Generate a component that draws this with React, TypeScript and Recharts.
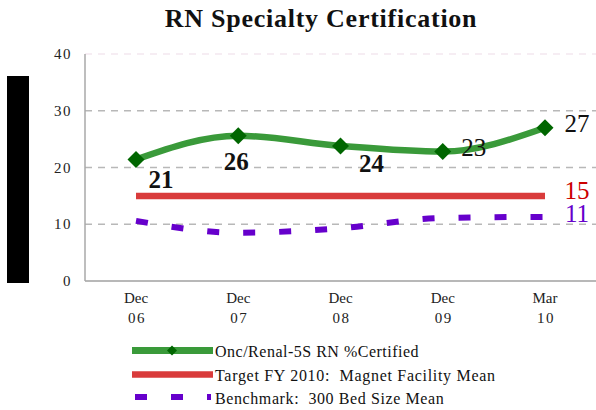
import React from 'react';
import { LineChart, Line, XAxis, YAxis, ReferenceLine, LabelList } from 'recharts';

const categories = ['Dec 06', 'Dec 07', 'Dec 08', 'Dec 09', 'Mar 10'];
const certified = [21.4, 25.6, 23.8, 22.8, 27.0];
const certifiedLabels = ['21', '26', '24', '23', '27'];
const target = [15, 15, 15, 15, 15];
const benchmark = [10.6, 8.5, 9.3, 11.1, 11.3];
const yTicks = [0, 10, 20, 30, 40];
const seriesNames = [
  'Onc/Renal-5S RN %Certified',
  'Target FY 2010:  Magnet Facility Mean',
  'Benchmark:  300 Bed Size Mean',
];

const data = categories.map((c, i) => ({
  name: c,
  certified: certified[i],
  target: target[i],
  benchmark: benchmark[i],
}));

const FONT = '"Liberation Serif", "Times New Roman", serif';
const GREEN = '#3a9a3a';
const DKGREEN = '#006600';
const RED = '#d93b3b';
const PURPLE = '#6600cc';

const labelOffsets = [
  [25, 20],
  [-2, 26],
  [31, 18],
  [31, -4],
  [32, -4],
];
const labelBold = [true, true, true, false, false];

const XTick = (props: any) => {
  const { x, y, payload } = props;
  const [a, b] = String(payload.value).split(' ');
  return (
    <g>
      <text x={x} y={y + 22} textAnchor="middle" fontFamily={FONT} fontSize={15} fill="#222">
        {a}
      </text>
      <text x={x + 1} y={y + 42} textAnchor="middle" fontFamily={FONT} fontSize={15} fill="#222" letterSpacing={1.5}>
        {b}
      </text>
    </g>
  );
};

const YTick = (props: any) => {
  const { x, y, payload } = props;
  return (
    <text x={x - 13} y={y + 5} textAnchor="end" fontFamily={FONT} fontSize={15} letterSpacing={1.5} fill="#222">
      {payload.value}
    </text>
  );
};

const Diamond = (props: any) => {
  const { cx, cy, index } = props;
  if (cx == null || cy == null) return <g key={`d${index}`} />;
  const r = 8.5;
  return (
    <path
      key={`d${index}`}
      d={`M${cx},${cy - r} L${cx + r},${cy} L${cx},${cy + r} L${cx - r},${cy} Z`}
      fill={DKGREEN}
    />
  );
};

const CertLabel = (props: any) => {
  const { x, y, index } = props;
  const [dx, dy] = labelOffsets[index];
  return (
    <text
      x={x + dx}
      y={y + dy}
      textAnchor="middle"
      dominantBaseline="central"
      fontFamily={FONT}
      fontSize={25}
      fontWeight={labelBold[index] ? 'bold' : 'normal'}
      fill="#111"
    >
      {certifiedLabels[index]}
    </text>
  );
};

const makeEndLabel = (color: string, values: number[], dy: number) => (props: any) => {
  const { x, y, index } = props;
  if (index !== values.length - 1) return null;
  return (
    <text
      x={x + 32}
      y={y + dy}
      textAnchor="middle"
      dominantBaseline="central"
      fontFamily={FONT}
      fontSize={25}
      fill={color}
    >
      {Math.round(values[index])}
    </text>
  );
};

export default function App() {
  return (
    <div style={{ position: 'absolute', left: 0, top: 0, width: 596, height: 410, background: '#fff' }}>
      <LineChart
        width={596}
        height={410}
        data={data}
        margin={{ top: 54, right: 0, bottom: 0, left: 0 }}
      >
        <XAxis
          dataKey="name"
          height={129}
          padding={{ left: 51, right: 51 }}
          tickLine={false}
          tickSize={0}
          tickMargin={0}
          axisLine={{ stroke: '#a0a0a0', strokeWidth: 1.5 }}
          tick={<XTick />}
          interval={0}
        />
        <YAxis
          width={85}
          domain={[0, 40]}
          ticks={yTicks}
          tickLine={false}
          tickSize={0}
          tickMargin={0}
          axisLine={{ stroke: '#a8a8a8', strokeWidth: 1.5 }}
          tick={<YTick />}
          interval={0}
        />
        <ReferenceLine y={40} stroke="#f3e8ef" strokeWidth={1.5} strokeDasharray="7 6" />
        <ReferenceLine y={30} stroke="#b8b8b8" strokeWidth={1.5} strokeDasharray="7 6" />
        <ReferenceLine y={20} stroke="#b8b8b8" strokeWidth={1.5} strokeDasharray="7 6" />
        <ReferenceLine y={10} stroke="#b8b8b8" strokeWidth={1.5} strokeDasharray="7 6" />
        <Line
          type="monotone"
          dataKey="benchmark"
          stroke={PURPLE}
          strokeWidth={6}
          strokeDasharray="12 24"
          dot={false}
          isAnimationActive={false}
        >
          <LabelList dataKey="benchmark" content={makeEndLabel(PURPLE, benchmark, -3)} />
        </Line>
        <Line
          type="linear"
          dataKey="target"
          stroke={RED}
          strokeWidth={6.5}
          dot={false}
          isAnimationActive={false}
        >
          <LabelList dataKey="target" content={makeEndLabel('#cc0000', target, -5)} />
        </Line>
        <Line
          type="monotone"
          dataKey="certified"
          stroke={GREEN}
          strokeWidth={6.5}
          dot={<Diamond />}
          isAnimationActive={false}
        >
          <LabelList dataKey="certified" content={<CertLabel />} />
        </Line>
      </LineChart>
      <svg
        width={596}
        height={410}
        style={{ position: 'absolute', left: 0, top: 0, pointerEvents: 'none' }}
      >
        <text x={321} y={27} textAnchor="middle" fontFamily={FONT} fontSize={26} letterSpacing={0.75} fontWeight="bold" fill="#111">
          RN Specialty Certification
        </text>
        <rect x={7} y={76} width={22} height={207} fill="#000" />
        <line x1={132} x2={213} y1={350.5} y2={350.5} stroke={GREEN} strokeWidth={7} />
        <path d="M172,345.5 L177,350.5 L172,355.5 L167,350.5 Z" fill={DKGREEN} />
        <text x={215} y={357} fontFamily={FONT} fontSize={16} letterSpacing={0.5} fill="#111">
          {seriesNames[0]}
        </text>
        <line x1={132} x2={213} y1={374.5} y2={374.5} stroke={RED} strokeWidth={6.5} />
        <text x={215} y={381} fontFamily={FONT} fontSize={16} letterSpacing={0.7} fill="#111" style={{ whiteSpace: 'pre' }}>
          {seriesNames[1]}
        </text>
        <line x1={135} x2={211} y1={397} y2={397} stroke={PURPLE} strokeWidth={6} strokeDasharray="12 24" />
        <text x={215} y={404} fontFamily={FONT} fontSize={16} letterSpacing={0.6} fill="#111" style={{ whiteSpace: 'pre' }}>
          {seriesNames[2]}
        </text>
      </svg>
    </div>
  );
}
